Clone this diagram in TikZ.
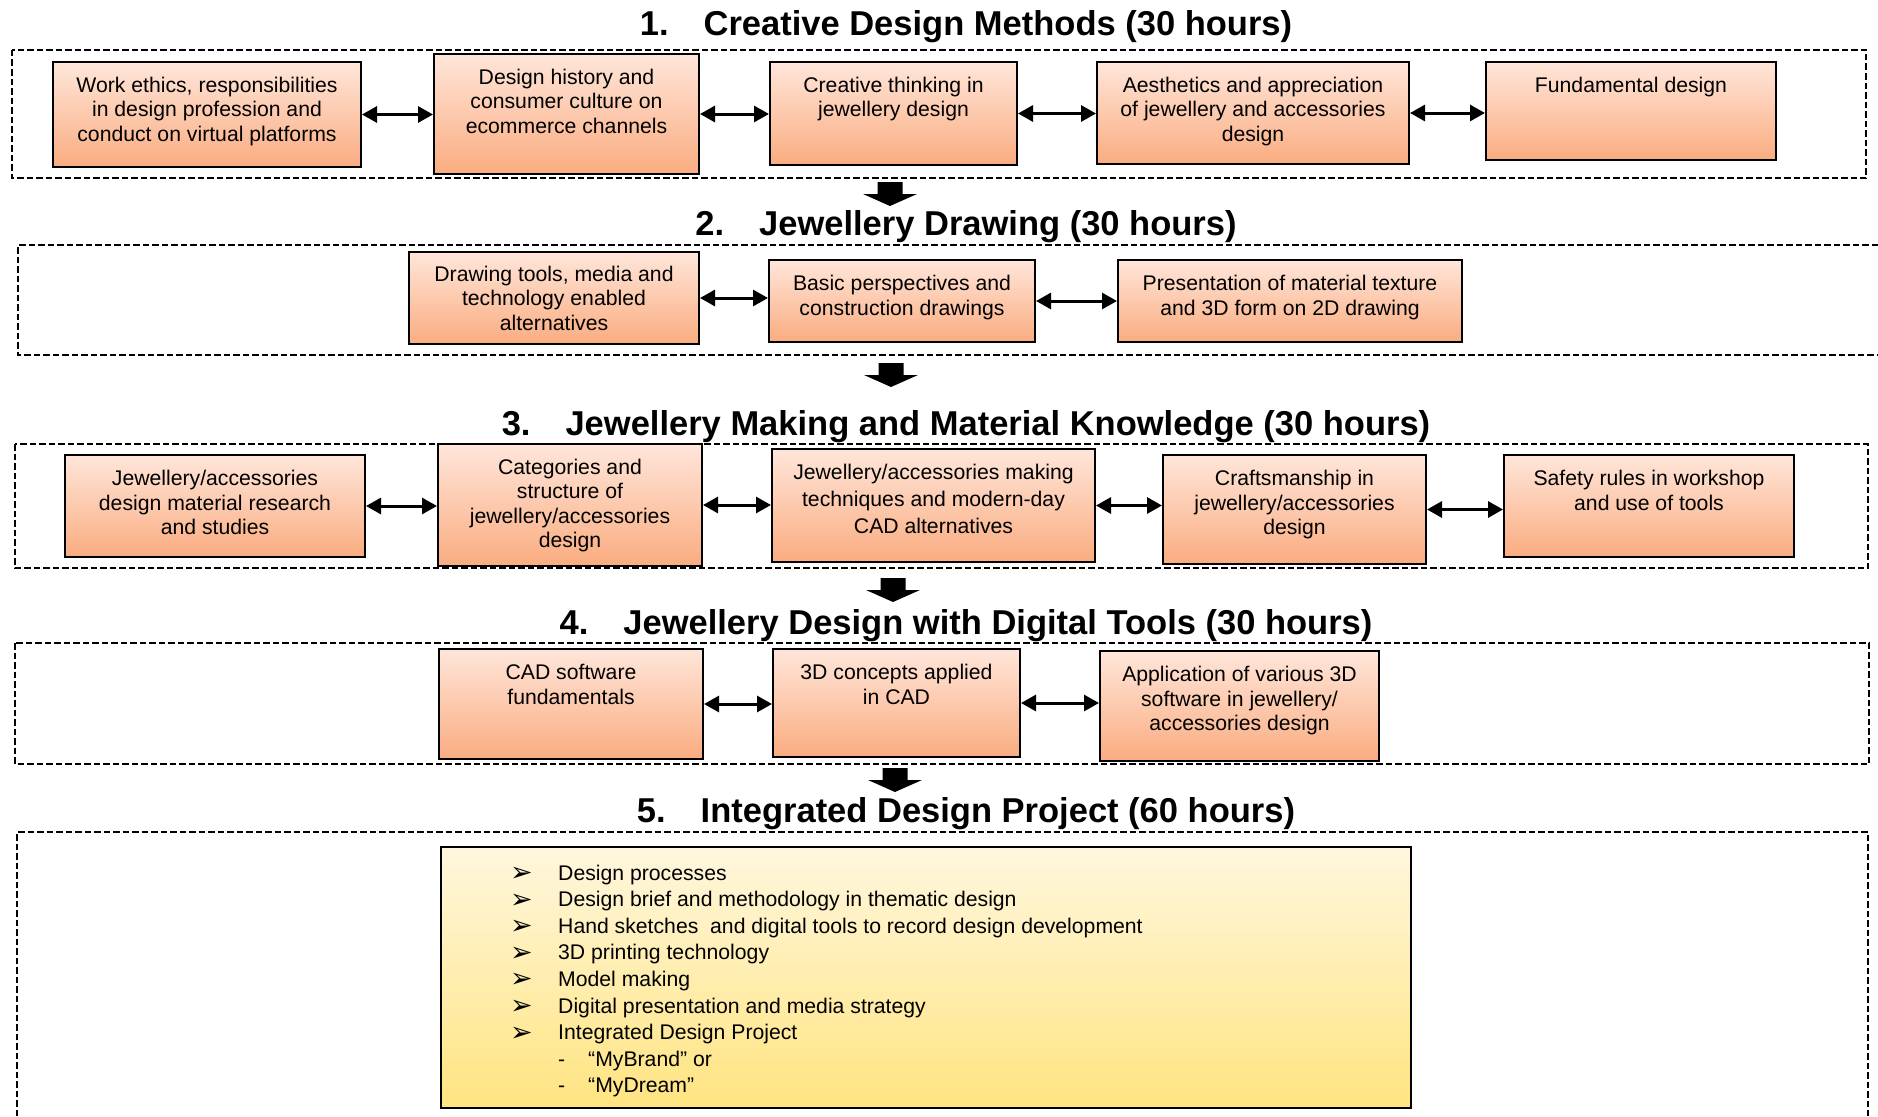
\documentclass[tikz,border=0pt]{standalone}
\usepackage{fontspec}
\setmainfont{Liberation Sans}
\newfontfamily\symfont{DejaVu Sans}
\usetikzlibrary{arrows.meta}

\definecolor{boxtop}{RGB}{255,230,218}
\definecolor{boxbot}{RGB}{250,172,128}
\definecolor{projtop}{RGB}{255,247,222}
\definecolor{projbot}{RGB}{255,228,128}

\newcommand\boxfont{\fontsize{21.2pt}{24.6pt}\selectfont}
\newcommand\listfont{\fontsize{21.2pt}{26.6pt}\selectfont}
\newcommand\bul{{\symfont\fontsize{27pt}{20pt}\selectfont\raisebox{-1.5pt}{➢}}}

\begin{document}
\begin{tikzpicture}[x=1pt,y=-1pt,
    obox/.style={draw=black,line width=2pt,top color=boxtop,bottom color=boxbot,inner sep=0pt},
    btxt/.style={anchor=north,align=center,inner sep=0pt,font=\boxfont},
    ttl/.style={anchor=base,inner sep=0pt,font=\fontsize{34.5pt}{40pt}\selectfont\bfseries},
    frame/.style={line width=2.3pt,dash pattern=on 6.5pt off 3pt},
    dblarr/.style={{Triangle[length=15pt,width=16pt]}-{Triangle[length=15pt,width=16pt]},line width=3pt},
    pics/dnarrow/.style={code={\fill (-12.5,0) -- (12.5,0) -- (12.5,12) -- (27,12) -- (0,24) -- (-27,12) -- (-12.5,12) -- cycle;}}]
    \useasboundingbox (0,0) rectangle (1878,1116);

    % 1. creative design methods
    \node[ttl] (ttl1) at (966,35.5) {1.\hspace{35pt}Creative Design Methods (30 hours)};
    \draw[frame] (12,50) rectangle (1866,178);
    \node[obox,minimum width=308pt,minimum height=105pt] (crea1) at (207,114.5) {};
    \node[obox,minimum width=265pt,minimum height=120pt] (crea2) at (566.5,114) {};
    \node[obox,minimum width=247pt,minimum height=103pt] (crea3) at (893.5,113.5) {};
    \node[obox,minimum width=312pt,minimum height=102pt] (crea4) at (1253,113) {};
    \node[obox,minimum width=290pt,minimum height=98pt] (crea5) at (1631,111) {};
    \node[btxt] (crea1t) at ([yshift=-15.5pt]crea1.north) {Work ethics, responsibilities\\in design profession and\\conduct on virtual platforms};
    \node[btxt] (crea2t) at ([yshift=-15.5pt]crea2.north) {Design history and\\consumer culture on\\ecommerce channels};
    \node[btxt] (crea3t) at ([yshift=-15.5pt]crea3.north) {Creative thinking in\\jewellery design};
    \node[btxt] (crea4t) at ([yshift=-15.5pt]crea4.north) {Aesthetics and appreciation\\of jewellery and accessories\\design};
    \node[btxt] (crea5t) at ([yshift=-15.5pt]crea5.north) {Fundamental design};
    \draw[dblarr] (crea1.east) -- (crea1.east -| crea2.west);
    \draw[dblarr] (crea2.east) -- (crea2.east -| crea3.west);
    \draw[dblarr] (crea3.east) -- (crea3.east -| crea4.west);
    \draw[dblarr] (crea4.east) -- (crea4.east -| crea5.west);
    \pic at (890,182) {dnarrow};

    % 2. jewellery drawing
    \node[ttl] (ttl2) at (966,235) {2.\hspace{35pt}Jewellery Drawing (30 hours)};
    \draw[frame] (1878,245) -| (18,355) -- (1878,355);
    \node[obox,minimum width=290pt,minimum height=92pt] (draw1) at (554,298) {};
    \node[obox,minimum width=266pt,minimum height=82pt] (draw2) at (902,301) {};
    \node[obox,minimum width=344pt,minimum height=82pt] (draw3) at (1290,301) {};
    \node[btxt] (draw1t) at ([yshift=-14.5pt]draw1.north) {Drawing tools, media and\\technology enabled\\alternatives};
    \node[btxt] (draw2t) at ([yshift=-16pt]draw2.north) {Basic perspectives and\\construction drawings};
    \node[btxt] (draw3t) at ([yshift=-16pt]draw3.north) {Presentation of material texture\\and 3D form on 2D drawing};
    \draw[dblarr] (draw1.east) -- (draw1.east -| draw2.west);
    \draw[dblarr] (draw2.east) -- (draw2.east -| draw3.west);
    \pic at (891,363) {dnarrow};

    % 3. jewellery making
    \node[ttl] (ttl3) at (966,435) {3.\hspace{35pt}Jewellery Making and Material Knowledge (30 hours)};
    \draw[frame] (15,444) rectangle (1868,568);
    \node[obox,minimum width=300pt,minimum height=102pt] (make1) at (215,506) {};
    \node[obox,minimum width=264pt,minimum height=122pt] (make2) at (570,505) {};
    \node[obox,minimum width=323pt,minimum height=113pt] (make3) at (933.5,505.5) {};
    \node[obox,minimum width=263pt,minimum height=109pt] (make4) at (1294.5,509.5) {};
    \node[obox,minimum width=290pt,minimum height=102pt] (make5) at (1649,506) {};
    \node[btxt] (make1t) at ([yshift=-16pt]make1.north) {Jewellery/accessories\\design material research\\and studies};
    \node[btxt] (make2t) at ([yshift=-15.5pt]make2.north) {Categories and\\structure of\\jewellery/accessories\\design};
    \node[btxt] (make3t) at ([yshift=-16pt]make3.north) {Jewellery/accessories making\\[2.4pt]techniques and modern-day\\[2.4pt]CAD alternatives};
    \node[btxt] (make4t) at ([yshift=-16pt]make4.north) {Craftsmanship in\\jewellery/accessories\\design};
    \node[btxt] (make5t) at ([yshift=-16pt]make5.north) {Safety rules in workshop\\and use of tools};
    \draw[dblarr] (make1.east) -- (make1.east -| make2.west);
    \draw[dblarr] (make2.east) -- (make2.east -| make3.west);
    \draw[dblarr] (make3.east) -- (make3.east -| make4.west);
    \draw[dblarr] (make4.east) -- (make4.east -| make5.west);
    \pic at (893,578) {dnarrow};

    % 4. digital tools
    \node[ttl] (ttl4) at (966,634) {4.\hspace{35pt}Jewellery Design with Digital Tools (30 hours)};
    \draw[frame] (15,643) rectangle (1869,764);
    \node[obox,minimum width=264pt,minimum height=110pt] (digi1) at (571,704) {};
    \node[obox,minimum width=247pt,minimum height=108pt] (digi2) at (896.5,703) {};
    \node[obox,minimum width=279pt,minimum height=110pt] (digi3) at (1239.5,706) {};
    \node[btxt] (digi1t) at ([yshift=-16pt]digi1.north) {CAD software\\fundamentals};
    \node[btxt] (digi2t) at ([yshift=-16pt]digi2.north) {3D concepts applied\\in CAD};
    \node[btxt] (digi3t) at ([yshift=-16pt]digi3.north) {Application of various 3D\\software in jewellery/\\accessories design};
    \draw[dblarr] (digi1.east) -- (digi1.east -| digi2.west);
    \draw[dblarr] (digi2.east) -- (digi2.east -| digi3.west);
    \pic at (895,768) {dnarrow};

    % 5. integrated project
    \node[ttl] (ttl5) at (966,822) {5.\hspace{35pt}Integrated Design Project (60 hours)};
    \draw[frame] (17,1116) |- (1868,832) -- (1868,1116);
    \node[draw=black,line width=1.5pt,top color=projtop,bottom color=projbot,minimum width=970pt,minimum height=261pt] (proj) at (926,977.5) {};
    \node[anchor=base west,inner sep=0pt,font=\listfont] (projlist) at (510,880) {%
      \begin{tabular}[t]{@{}p{48pt}@{}l@{}}
        \bul & Design processes\\
        \bul & Design brief and methodology in thematic design\\
        \bul & Hand sketches\ \ and digital tools to record design development\\
        \bul & 3D printing technology\\
        \bul & Model making\\
        \bul & Digital presentation and media strategy\\
        \bul & Integrated Design Project\\
             & \makebox[30pt][l]{-}“MyBrand” or\\
             & \makebox[30pt][l]{-}“MyDream”
      \end{tabular}};
\end{tikzpicture}
\end{document}
